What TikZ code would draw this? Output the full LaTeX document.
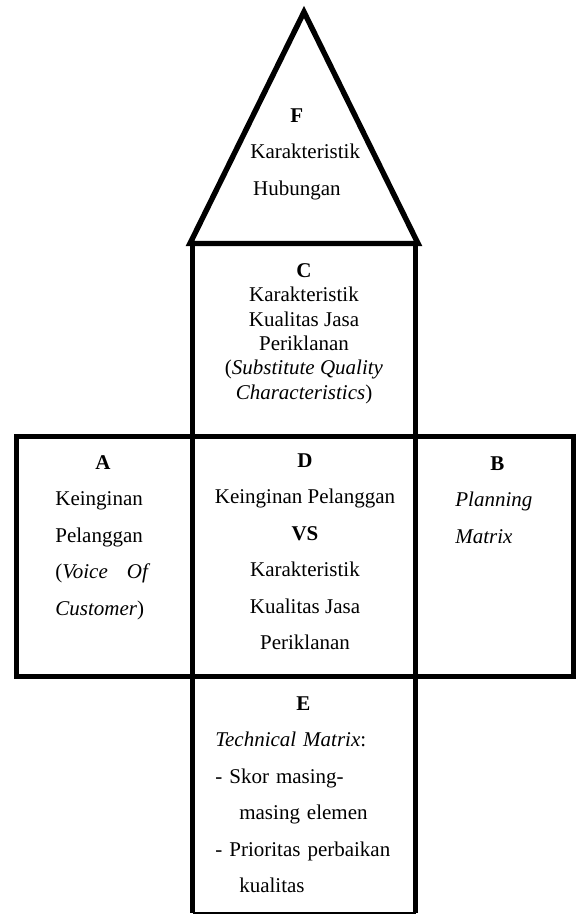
\documentclass[tikz,border=0pt]{standalone}
\usepackage{fontspec}
\setmainfont{Liberation Serif}
\usetikzlibrary{positioning}

\begin{document}
\begin{tikzpicture}[
    x=0.5714pt, y=-0.5714pt,
    frame/.style={line width=2.9pt, line join=miter},
    roof/.style={line width=3.1pt, line join=miter},
    cell/.style={inner sep=0pt, font=\fontsize{12}{20.9}\selectfont},
    tight/.style={inner sep=0pt, align=center, font=\fontsize{12}{13.95}\selectfont}
]
\useasboundingbox (0,0) rectangle (576,915);

% roof and the three tiers
\draw[roof]  (190,243.5) -- (304,12) -- (418,243.5) -- cycle;
\draw[frame] (192.5,243.5) rectangle (415.5,436.5);
\draw[frame] (16.5,436.5) rectangle (573.5,676.5);
\draw[frame] (192.5,436.5) -- (192.5,913);
\draw[frame] (415.5,436.5) -- (415.5,913);
\draw[line width=0.6pt] (192.5,913) -- (415.5,913);

\node[cell, align=left, anchor=north west] (relF) at (250,108)
    {\hspace*{22.8pt}\textbf{F}\\Karakteristik\\\hspace*{1.6pt}Hubungan};

\node[tight, anchor=north] (charC) at (304,263)
    {\textbf{C}\\Karakteristik\\Kualitas Jasa\\Periklanan\\
     (\textit{Substitute Quality}\\\textit{Characteristics})};

\node[cell, align=left, text width=54.3pt, anchor=north west] (voiceA) at (55,455)
    {\hfill\textbf{A}\hfill\mbox{}\\Keinginan\\Pelanggan\\
     (\textit{Voice}\hfill\textit{Of}\\\textit{Customer})};

\node[cell, align=center, anchor=north] (relD) at (305,453)
    {\textbf{D}\\Keinginan Pelanggan\\\textbf{VS}\\Karakteristik\\Kualitas Jasa\\Periklanan};

\node[cell, align=left, text width=48pt, anchor=north west] (planB) at (455,456)
    {\hfill\textbf{B}\hfill\mbox{}\\\textit{Planning}\\\textit{Matrix}};

\node[cell, align=left, text width=100.6pt, anchor=north west] (techE) at (215,696)
    {\hfill\textbf{E}\hfill\mbox{}\\\textit{Technical Matrix}:\\- Skor masing-\\
     \hspace*{13.7pt}masing elemen\\- Prioritas perbaikan\\\hspace*{13.7pt}kualitas};
\end{tikzpicture}
\end{document}
